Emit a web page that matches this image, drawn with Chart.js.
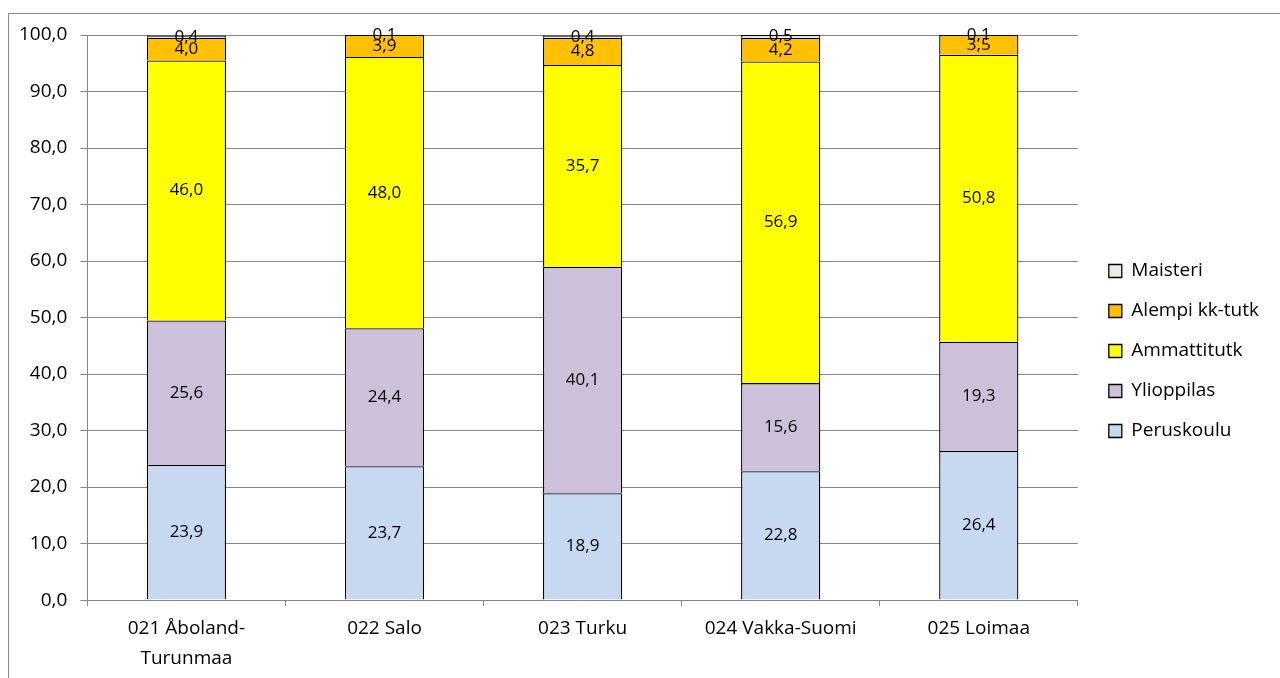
<!DOCTYPE html>
<html>
<head>
<meta charset="utf-8">
<script src="https://cdn.jsdelivr.net/npm/chart.js@4"></script>
<style>
  body { margin: 0; background: #fff; }
</style>
</head>
<body>
<canvas id="chart" width="1280" height="678"></canvas>
<script>
const categories = [['021 Åboland-', 'Turunmaa'], '022 Salo', '023 Turku', '024 Vakka-Suomi', '025 Loimaa']
const peruskoulu = [23.9, 23.7, 18.9, 22.8, 26.4]
const ylioppilas = [25.6, 24.4, 40.1, 15.6, 19.3]
const ammattitutk = [46.0, 48.0, 35.7, 56.9, 50.8]
const alempiKk = [4.0, 3.9, 4.8, 4.2, 3.5]
const maisteri = [0.4, 0.1, 0.4, 0.5, 0.1]
const yTicks = [0, 10, 20, 30, 40, 50, 60, 70, 80, 90, 100]

const FONT = "'Open Sans', sans-serif"
const fmt = v => v.toFixed(1).replace('.', ',')

// frame round the whole chart, like the Excel chart area
const framePlugin = {
  id: 'frame',
  beforeDraw(chart) {
    const ctx = chart.ctx
    ctx.save()
    ctx.strokeStyle = '#8c8c8c'
    ctx.lineWidth = 1
    ctx.strokeRect(8.5, 13.5, 1400, 800)
    ctx.restore()
  }
}

// value labels in the middle of each segment
const valueLabels = {
  id: 'valueLabels',
  afterDatasetsDraw(chart) {
    const ctx = chart.ctx
    ctx.save()
    ctx.font = '17px ' + FONT
    ctx.fillStyle = '#000'
    ctx.textAlign = 'center'
    ctx.textBaseline = 'middle'
    chart.data.datasets.forEach((ds, i) => {
      chart.getDatasetMeta(i).data.forEach((bar, j) => {
        ctx.fillText(fmt(ds.data[j]), bar.x, (bar.y + bar.base) / 2)
      })
    })
    ctx.restore()
  }
}

// a bit more room between plot and legend
const legendGap = {
  id: 'legendGap',
  beforeInit(chart) {
    const fit = chart.legend.fit
    chart.legend.fit = function () {
      fit.call(this)
      this.width += 20
    }
  },
  afterLayout(chart) {
    chart.legend.left += 10
    chart.legend.right += 10
    chart.legend.top -= 5
    chart.legend.bottom -= 5
  }
}

const mk = (label, data, color) => ({
  label: label,
  data: data,
  backgroundColor: color,
  borderColor: '#000',
  borderWidth: 1.3,
  barPercentage: 0.8,
  categoryPercentage: 0.5
})

new Chart(document.getElementById('chart'), {
  type: 'bar',
  data: {
    labels: categories,
    datasets: [
      mk('Peruskoulu', peruskoulu, '#C6D9F1'),
      mk('Ylioppilas', ylioppilas, '#CCC0DA'),
      mk('Ammattitutk', ammattitutk, '#FFFF00'),
      mk('Alempi kk-tutk', alempiKk, '#FFC000'),
      mk('Maisteri', maisteri, '#EEECE1')
    ]
  },
  options: {
    responsive: false,
    animation: false,
    layout: { padding: { left: 6, top: 35, right: 1, bottom: 1 } },
    plugins: {
      legend: {
        position: 'right',
        reverse: true,
        labels: {
          color: '#000',
          font: { family: FONT, size: 19 },
          boxWidth: 13,
          boxHeight: 13,
          padding: 21
        }
      },
      tooltip: { enabled: false }
    },
    scales: {
      x: {
        stacked: true,
        afterFit: s => { s.height -= 4 },
        grid: { display: true, drawOnChartArea: false, offset: true, tickLength: 6, color: '#868686' },
        border: { color: '#868686' },
        ticks: { color: '#000', font: { family: FONT, size: 19, lineHeight: 1.55 }, maxRotation: 0, padding: 8 }
      },
      y: {
        stacked: true,
        min: 0,
        max: 100,
        afterBuildTicks: axis => { axis.ticks = yTicks.map(v => ({ value: v })) },
        grid: { color: '#868686', tickLength: 7 },
        border: { color: '#868686' },
        ticks: { color: '#000', font: { family: FONT, size: 19 }, padding: 13, callback: v => fmt(v) }
      }
    }
  },
  plugins: [framePlugin, valueLabels, legendGap]
})
</script>
</body>
</html>
